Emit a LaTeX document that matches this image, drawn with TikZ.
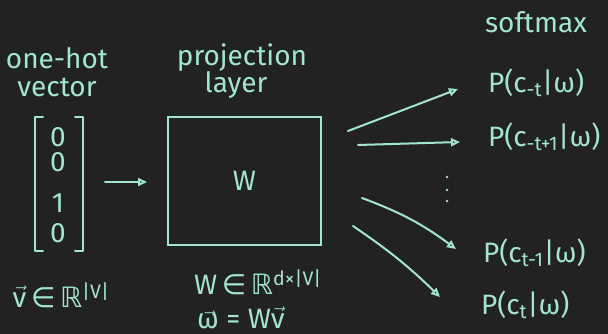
\documentclass[tikz,border=0pt]{standalone}
\usepackage{amsmath}
\usepackage{fontspec}
\setmainfont{Fira Sans}
\newfontfamily\sym{DejaVu Sans}
\usetikzlibrary{arrows.meta}
\definecolor{bg}{HTML}{222222}
\definecolor{ink}{HTML}{A2E5D1}
\begin{document}
\begin{tikzpicture}[x=1pt,y=-1pt,line width=2pt,draw=ink,
  lbl/.style={text=ink,font=\fontsize{28}{30}\selectfont,inner sep=0pt},
  arr/.style={-{Triangle[open,length=9pt,width=8pt]},line cap=round}]
\fill[bg] (0,0) rectangle (608,334);
\useasboundingbox (0,0) rectangle (608,334);
% one-hot vector
\node[lbl] (onehot) at (57,58) {one-hot};
\node[lbl] (vector) at (57,87) {vector};
\node[minimum width=46pt,minimum height=132pt,inner sep=0pt] (vec) at (59,184) {};
\draw[line cap=round,line join=round] ([xshift=8]vec.north west) -- (vec.north west) -- (vec.south west) -- ([xshift=8]vec.south west);
\draw[line cap=round,line join=round] ([xshift=-8]vec.north east) -- (vec.north east) -- (vec.south east) -- ([xshift=-8]vec.south east);
\node[lbl] (e1) at (58,137) {0};
\node[lbl] (e2) at (58,162) {0};
\node[lbl] (e3) at (58,203) {1};
\node[lbl] (e4) at (58,233) {0};
\node[lbl] (vlab) at (61,295) {$\vec{\text{v}}$\,{\sym ∈}\,{\sym ℝ}\textsuperscript{|V|}};
% projection layer
\node[lbl] (proj) at (242,58) {projection};
\node[lbl] (layer) at (236,85) {layer};
\node[draw,lbl,minimum width=153pt,minimum height=128pt] (box) at (244.5,181) {W};
\coordinate (a0s) at (105,182);
\coordinate (a0e) at (147,182);
\draw[arr] (a0s) -- (a0e);
\node[lbl] (wlab) at (258,282) {W\,{\sym ∈}\,{\sym ℝ}\textsuperscript{d×|V|}};
\node[lbl] (wdef) at (241,318) {$\vec{\text{\smash{ω}}}$ = W$\vec{\text{v}}$};
% softmax
\node[lbl] (soft) at (536,22) {softmax};
\node[lbl,anchor=west] (p1) at (487,83) {P(c\textsubscript{-t}|ω)};
\node[lbl,anchor=west] (p2) at (487,137) {P(c\textsubscript{-t+1}|ω)};
\node[lbl,anchor=west] (p3) at (482,253) {P(c\textsubscript{t-1}|ω)};
\node[lbl,anchor=west] (p4) at (480,305) {P(c\textsubscript{t}|ω)};
\fill[ink] (447,177) circle (1.3pt) (447,190) circle (1.3pt) (447,201) circle (1.3pt);
\coordinate (s1) at (348,131); \coordinate (t1) at (458,89);
\coordinate (s2) at (358,145); \coordinate (t2) at (460,142);
\coordinate (s3) at (362,198); \coordinate (t3) at (456,249);
\coordinate (s4) at (353,226); \coordinate (t4) at (440,297);
\draw[arr] (s1) -- (t1);
\draw[arr] (s2) -- (t2);
\draw[arr] (s3) to[bend left=8] (t3);
\draw[arr] (s4) to[bend left=5] (t4);
\end{tikzpicture}
\end{document}
